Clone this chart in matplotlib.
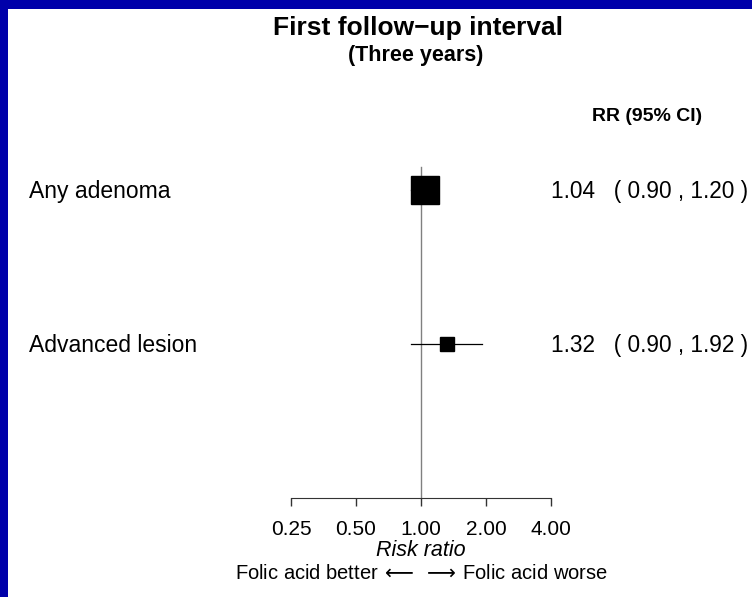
import matplotlib
matplotlib.use("Agg")
import numpy as np
import matplotlib.pyplot as plt

plt.rcParams['font.family'] = ['Liberation Sans', 'DejaVu Sans']

# datos del forest plot
outcomes = ["Any adenoma", "Advanced lesion"]
rr = [1.04, 1.32]
ci_low = [0.90, 0.90]
ci_high = [1.20, 1.92]
box_sizes = [20, 10]          # tamaño del cuadrado (pt)
xticks = [0.25, 0.50, 1.00, 2.00, 4.00]
xtick_labels = ["0.25", "0.50", "1.00", "2.00", "4.00"]

W, H = 752, 597
fig = plt.figure(figsize=(W / 100, H / 100), dpi=100)
fig.patch.set_facecolor("#0000AA")

# panel blanco dentro del borde azul
ax = fig.add_axes([8 / W, 0, (W - 8) / W, (H - 9) / H])
ax.set_facecolor("white")
ax.set_xscale("log", base=2)
ax.set_xlim(2 ** -6.354, 2 ** 5.092)
ax.set_ylim(3.643, -0.175)

rows = np.arange(1, len(outcomes) + 1)

# linea de referencia en RR = 1
ax.plot([1, 1], [0.85, 3], color="#808080", lw=1, zorder=1)

for y, est, lo, hi, s in zip(rows, rr, ci_low, ci_high, box_sizes):
    ax.plot([lo, hi], [y, y], color="black", lw=0.9, zorder=2)
    ax.plot(est, y, marker="s", markersize=s, color="black", zorder=3)

# eje x tipo R
for side in ["top", "left", "right"]:
    ax.spines[side].set_visible(False)
ax.spines["bottom"].set_position(("data", 3))
ax.spines["bottom"].set_bounds(xticks[0], xticks[-1])
ax.spines["bottom"].set_color("#333333")
ax.set_xticks(xticks)
ax.set_xticklabels(xtick_labels, fontsize=15)
ax.xaxis.set_minor_locator(matplotlib.ticker.NullLocator())
ax.tick_params(axis="x", direction="out", length=6, width=1, color="#333333", pad=10)
ax.set_yticks([])

ax.text(1, 3.34, "Risk ratio", style="italic", fontsize=15.5, ha="center", va="center")
ax.text(1, 3.49, r"Folic acid better$\,\longleftarrow\;\longrightarrow\,$Folic acid worse",
        fontsize=14.5, ha="center", va="center")

# etiquetas y valores
lab_x = (29 - 8) / (W - 8)
for y, name, est, lo, hi in zip(rows, outcomes, rr, ci_low, ci_high):
    ax.text(lab_x, y + 0.012, name, transform=ax.get_yaxis_transform(),
            fontsize=16.5, ha="left", va="center")
    ax.text(4, y + 0.012, f"{est:.2f}   ( {lo:.2f} , {hi:.2f} )", fontsize=16.3,
            ha="left", va="center")

ax.text(2 ** 3.477, 0.52, "RR (95% CI)", fontweight="bold", fontsize=14,
        ha="center", va="center")

fig.text(418 / W, 1 - 28 / H, "First follow\u2212up interval", fontweight="bold",
         fontsize=19, ha="center", va="center")
fig.text(416 / W, 1 - 55 / H, "(Three years)", fontweight="bold", fontsize=15.5,
         ha="center", va="center")

fig.savefig("out.png", dpi=100, facecolor=fig.get_facecolor())
